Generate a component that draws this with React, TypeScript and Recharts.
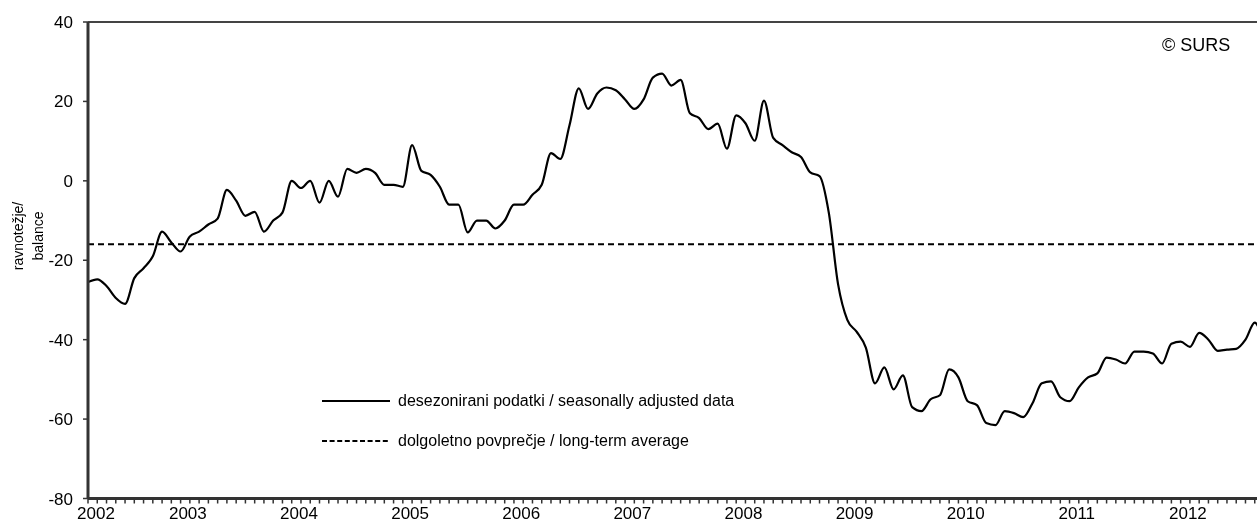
import React from "react";
import { LineChart, Line, XAxis, YAxis, ReferenceLine, Legend } from "recharts";

// Monthly series, first point = February 2002
const startMonth = 2;
const yearLabels = ["2002", "2003", "2004", "2005", "2006", "2007", "2008", "2009", "2010", "2011", "2012"];
const yTicks = [-80, -60, -40, -20, 0, 20, 40];
const longTermAverage = -16;
const seriesNames = [
  "desezonirani podatki / seasonally adjusted data",
  "dolgoletno povprečje / long-term average",
];
const yAxisTitle = ["ravnotežje/", "balance"];
const copyright = "© SURS";

const balance = [
  -25.5, -24.8, -26.5, -29.5, -31, -24.5, -22, -19, -12.8, -15.5, -17.8, -14,
  -12.8, -11, -9.5, -2.3, -5, -8.8, -7.8, -12.8, -10, -8, 0, -1.8,
  0, -5.5, 0, -4, 3, 2, 3, 2, -1, -1, -1.5, 9,
  2.5, 1.5, -1.5, -6, -6, -13, -10, -10, -12, -10, -6, -6,
  -3.5, -1, 7, 5.5, 14, 23.3, 18.1, 22, 23.5, 22.8, 20.5, 18.1,
  20.5, 26, 27, 24, 25.4, 17, 15.8, 13, 14.4, 8.1, 16.5, 14.5,
  10.1, 20.2, 10.8, 9, 7.2, 6, 2.1, 1.2, -8, -26, -35, -38,
  -42, -51, -47, -52.5, -49, -57, -58, -55, -54, -47.5, -49.5, -55.5,
  -56.5, -61, -61.5, -58, -58.5, -59.5, -56, -51, -50.5, -54.5, -55.5, -52,
  -49.5, -48.5, -44.5, -45, -46, -43, -43, -43.5, -46, -41, -40.5, -41.8,
  -38.3, -40, -42.8, -42.5, -42.3, -40, -35.7, -41,
];

const data = balance.map((v, i) => ({ i, v }));
const monthTicks = balance.map((_, i) => i);

function yearLabelAt(i: number): string | null {
  if (i === 0) return yearLabels[0];
  const m = i + startMonth - 1;
  if (m % 12 === 0) return yearLabels[m / 12] ?? null;
  return null;
}

const FONT = "'Liberation Sans', Arial, sans-serif";

const XTick = (props: any) => {
  const { x, y, payload } = props;
  const label = yearLabelAt(payload.value);
  if (!label) return null;
  const dx = payload.value === 0 ? 8 : -2;
  return (
    <text x={x + dx} y={y} dy="0.71em" textAnchor="middle" fontSize={17} fill="#000" fontFamily={FONT}>
      {label}
    </text>
  );
};

const YTitle = () => (
  <g fontFamily={FONT} fontSize={14} fill="#000">
    <text transform="translate(15,228) rotate(-90)" textAnchor="middle">{yAxisTitle[0]}</text>
    <text transform="translate(34.5,228) rotate(-90)" textAnchor="middle">{yAxisTitle[1]}</text>
  </g>
);

const LegendContent = () => (
  <div style={{ fontFamily: FONT, fontSize: 16, color: "#000" }}>
    <div style={{ display: "flex", alignItems: "center", height: 20, whiteSpace: "nowrap" }}>
      <svg width={68} height={10}>
        <line x1={0} y1={5} x2={68} y2={5} stroke="#000" strokeWidth={2.2} />
      </svg>
      <span style={{ marginLeft: 8 }}>{seriesNames[0]}</span>
    </div>
    <div style={{ display: "flex", alignItems: "center", height: 20, marginTop: 20, whiteSpace: "nowrap" }}>
      <svg width={68} height={10}>
        <line x1={0} y1={5} x2={68} y2={5} stroke="#000" strokeWidth={2} strokeDasharray="5 2.6" />
      </svg>
      <span style={{ marginLeft: 8 }}>{seriesNames[1]}</span>
    </div>
  </div>
);

export default function App() {
  return (
    <div
      style={{
        width: 1249,
        height: 519,
        overflow: "hidden",
        position: "fixed",
        left: 8,
        top: 8,
        fontFamily: FONT,
      }}
    >
      <LineChart
        width={1262}
        height={519}
        data={data}
        margin={{ top: 14, right: 6, bottom: 0, left: 0 }}
      >
        <XAxis
          dataKey="i"
          type="number"
          domain={[0, balance.length - 1]}
          ticks={monthTicks}
          interval={0}
          height={28.5}
          tickSize={5}
          tickMargin={3}
          axisLine={{ stroke: "#333", strokeWidth: 3 }}
          tickLine={{ stroke: "#333", strokeWidth: 1.5 }}
          tick={<XTick />}
          allowDataOverflow
        />
        <YAxis
          type="number"
          domain={[-80, 40]}
          ticks={yTicks}
          interval={0}
          width={80}
          tickSize={5}
          tickMargin={10}
          axisLine={{ stroke: "#333", strokeWidth: 3 }}
          tickLine={{ stroke: "#333", strokeWidth: 1.5 }}
          tick={{ fill: "#000", fontSize: 17, fontFamily: FONT }}
          label={{ content: <YTitle /> }}
          allowDataOverflow
        />
        <ReferenceLine y={40} stroke="#444" strokeWidth={2} />
        <ReferenceLine y={longTermAverage} stroke="#000" strokeWidth={2} strokeDasharray="6 4" />
        <Line
          type="monotone"
          dataKey="v"
          stroke="#000"
          strokeWidth={2.2}
          dot={false}
          isAnimationActive={false}
          name={seriesNames[0]}
        />
        <Legend
          layout="horizontal"
          verticalAlign="middle"
          align="center"
          wrapperStyle={{ position: "absolute", left: 314, top: 383, width: 520 }}
          content={<LegendContent />}
        />
      </LineChart>
      <div
        style={{
          position: "absolute",
          left: 1154,
          top: 27,
          fontSize: 18,
          lineHeight: "20px",
          color: "#000",
          fontFamily: FONT,
          whiteSpace: "nowrap",
        }}
      >
        {copyright}
      </div>
    </div>
  );
}
